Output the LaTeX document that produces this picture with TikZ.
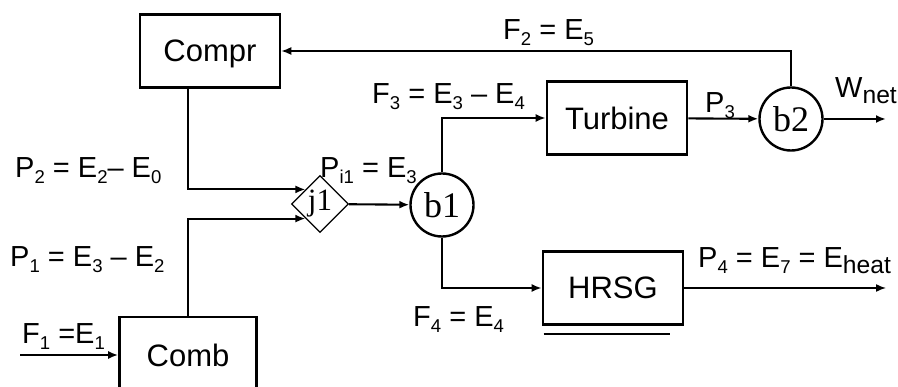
\documentclass[tikz,border=0pt]{standalone}
\usepackage{fontspec}
\setmainfont{Liberation Sans}
\newfontfamily\tmsfont{Liberation Serif}
\usetikzlibrary{arrows.meta,shapes.geometric}

\newcommand{\sbs}[2][0.64]{\raisebox{-0.19em}{\scalebox{#1}{#2}}}

\begin{document}
\begin{tikzpicture}[x=1pt, y=-1pt,
  font=\fontsize{29}{32}\selectfont,
  unit/.style={draw, line width=2.6pt, minimum width=140pt, minimum height=73pt, inner sep=0pt, text depth=0pt, font=\fontsize{31}{34}\selectfont},
  branch/.style={draw, circle, line width=2.4pt, minimum size=63pt, inner sep=0pt, font=\tmsfont\fontsize{36}{38}\selectfont},
  junc/.style={draw, diamond, line width=1.3pt, minimum size=57pt, inner sep=0pt, font=\tmsfont\fontsize{31}{33}\selectfont},
  flow/.style={-{Latex[length=10pt,width=8pt]}, line width=2.1pt},
  lbl/.style={inner sep=0pt, anchor=base west}
]
\useasboundingbox (0,0) rectangle (898,387);

% units
\node[unit] (compr) at (210,51) {Compr};
\node[unit, minimum width=137pt, minimum height=76pt] (comb) at (188,355) {Comb};
\node[unit] (turb) at (617,118) {Turbine};
\node[unit] (hrsg) at (613,288) {HRSG};

% junction and branch points
\node[junc] (j1) at (320,204) {j1};
\node[branch] (b1) at (442,205) {b1};
\node[branch] (b2) at (791,119) {b2};

\coordinate (fin) at (20,355);
\coordinate (wout) at (886,119);
\coordinate (heatout) at (886,288);

\draw[flow] (fin) -- (comb.west);
\draw[flow] (compr.south -| comb.north) |- (j1.north west);
\draw[flow] (comb.north) |- (j1.south west);
\draw[flow] (j1) -- (b1);
\draw[flow] (b1.north) |- (turb.west);
\draw[flow] (b1.south) |- (hrsg.west);
\draw[flow] (turb) -- (b2);
\draw[flow] (b2) -- (wout);
\draw[flow, line width=1.5pt] (b2.north) |- (compr.east);
\draw[flow, line width=1.5pt] (hrsg.east) -- (heatout);

\draw[line width=1.8pt] ([xshift=2pt,yshift=-8pt]hrsg.south west) -- ([xshift=-14pt,yshift=-8pt]hrsg.south east);

% labels
\node[lbl] (lf2) at (503,40) {F\sbs{2} = E\sbs{5}};
\node[lbl] (lf3) at (372,104) {F\sbs{3} = E\sbs{3} – E\sbs{4}};
\node[lbl] (lp2) at (15,178) {P\sbs{2} = E\sbs{2}– E\sbs{0}};
\node[lbl] (lpi) at (320,178) {P\sbs{i1} = E\sbs{3}};
\node[lbl] (lp1) at (10,267) {P\sbs{1} = E\sbs{3} – E\sbs{2}};
\node[lbl] (lf1) at (22,344) {F\sbs{1} =E\sbs{1}};
\node[lbl] (lf4) at (413,327) {F\sbs{4} = E\sbs{4}};
\node[lbl] (lp3) at (705,113) {P\sbs{3}};
\node[lbl] (lw) at (835,98) {W\sbs[0.85]{net}};
\node[lbl] (lp4) at (698,268) {P\sbs{4} = E\sbs{7} = E\sbs[0.85]{heat}};

\end{tikzpicture}
\end{document}
